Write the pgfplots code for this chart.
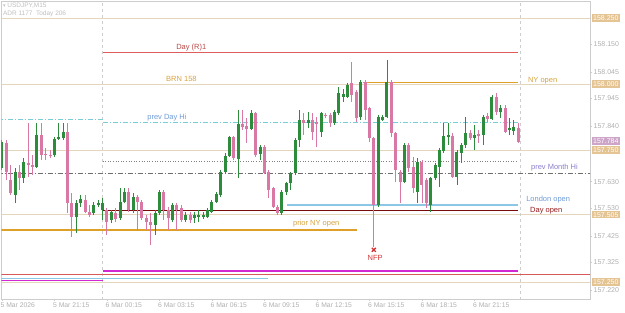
\documentclass[border=0pt]{standalone}
\usepackage{pgfplots}
\pgfplotsset{compat=1.18}
\usepackage{pgfplotstable}
\usepackage{fontspec}
\setmainfont{Liberation Sans}
\newfontfamily\dejavu{DejaVu Sans}

\definecolor{cgreen}{RGB}{44,140,60}
\definecolor{cpink}{RGB}{218,120,165}
\definecolor{tanline}{RGB}{228,214,186}
\definecolor{tanbox}{RGB}{228,196,146}
\definecolor{framec}{RGB}{205,205,205}
\definecolor{txtgrey}{RGB}{175,175,175}
\definecolor{r1red}{RGB}{222,92,92}
\definecolor{r1txt}{RGB}{185,70,70}
\definecolor{gold}{RGB}{222,160,40}
\definecolor{goldtxt}{RGB}{214,162,60}
\definecolor{pdhi}{RGB}{120,205,215}
\definecolor{bluetxt}{RGB}{110,155,215}
\definecolor{london}{RGB}{140,200,230}
\definecolor{dayopen}{RGB}{120,10,10}
\definecolor{dayopentxt}{RGB}{150,25,25}
\definecolor{pmtxt}{RGB}{140,125,205}
\definecolor{pmline}{RGB}{110,110,110}
\definecolor{magentaL}{RGB}{210,40,210}
\definecolor{redthin}{RGB}{215,90,90}
\definecolor{nfp}{RGB}{210,50,50}
\definecolor{mauve}{RGB}{205,165,200}

% candles: i open high low close (15-min bars, i = quarter hours from 6 Mar 00:00)
\pgfplotstableread{
i o h l c
-23 157.682 157.788 157.674 157.780
-20 157.580 157.682 157.549 157.667
-18 157.644 157.720 157.625 157.705
-15 157.686 157.852 157.682 157.807
-11 157.731 157.799 157.723 157.792
-10 157.792 157.852 157.788 157.799
-9 157.795 157.852 157.788 157.818
-6 157.496 157.561 157.436 157.549
-5 157.549 157.580 157.534 157.564
-2 157.511 157.553 157.504 157.542
-1 157.542 157.561 157.534 157.549
0 157.523 157.568 157.485 157.549
2 157.485 157.523 157.473 157.515
4 157.492 157.606 157.485 157.553
5 157.553 157.606 157.549 157.591
7 157.523 157.587 157.511 157.572
12 157.466 157.523 157.428 157.511
13 157.511 157.598 157.504 157.591
16 157.485 157.549 157.477 157.542
19 157.485 157.515 157.477 157.504
21 157.492 157.515 157.473 157.504
22 157.496 157.523 157.477 157.504
23 157.496 157.515 157.489 157.504
24 157.496 157.530 157.492 157.523
25 157.515 157.561 157.511 157.553
26 157.553 157.591 157.549 157.583
27 157.580 157.674 157.572 157.667
28 157.667 157.739 157.663 157.727
29 157.727 157.803 157.723 157.799
31 157.716 157.902 157.644 157.848
34 157.830 157.902 157.826 157.890
36 157.735 157.769 157.712 157.761
41 157.511 157.598 157.504 157.591
42 157.591 157.629 157.580 157.625
43 157.625 157.667 157.598 157.663
44 157.663 157.795 157.655 157.788
45 157.788 157.902 157.761 157.864
47 157.852 157.894 157.833 157.864
50 157.818 157.894 157.799 157.890
53 157.852 157.902 157.845 157.894
54 157.890 157.989 157.883 157.966
55 157.951 157.981 157.932 157.962
56 157.951 158.004 157.947 157.996
59 157.875 158.015 157.864 158.008
63 157.542 157.883 157.534 157.875
64 157.864 157.883 157.860 157.875
65 157.875 158.091 157.871 158.008
69 157.629 157.777 157.625 157.769
72 157.591 157.720 157.549 157.705
75 157.542 157.648 157.515 157.644
76 157.644 157.701 157.636 157.693
77 157.686 157.758 157.610 157.750
78 157.746 157.852 157.739 157.803
79 157.799 157.852 157.769 157.807
81 157.648 157.750 157.617 157.742
82 157.739 157.777 157.701 157.769
83 157.769 157.875 157.758 157.814
85 157.795 157.845 157.750 157.807
87 157.807 157.883 157.769 157.875
89 157.867 157.958 157.864 157.951
91 157.894 157.920 157.871 157.909
93 157.826 157.871 157.807 157.833
94 157.822 157.864 157.807 157.837
}\greenT

\pgfplotstableread{
i o h l c
-22 157.777 157.788 157.636 157.667
-21 157.636 157.693 157.580 157.587
-19 157.667 157.693 157.598 157.644
-17 157.701 157.852 157.648 157.693
-16 157.693 157.731 157.655 157.686
-14 157.807 157.852 157.712 157.731
-13 157.735 157.758 157.712 157.731
-12 157.731 157.750 157.720 157.727
-8 157.818 157.852 157.511 157.549
-7 157.549 157.587 157.420 157.496
-4 157.561 157.580 157.511 157.515
-3 157.515 157.542 157.496 157.504
1 157.523 157.530 157.428 157.477
3 157.511 157.530 157.477 157.489
6 157.591 157.606 157.515 157.523
8 157.572 157.580 157.447 157.553
9 157.553 157.561 157.485 157.492
10 157.492 157.504 157.447 157.477
11 157.477 157.511 157.390 157.466
14 157.591 157.598 157.485 157.523
15 157.523 157.534 157.447 157.492
17 157.542 157.549 157.447 157.523
18 157.530 157.542 157.477 157.485
20 157.504 157.515 157.473 157.485
30 157.799 157.803 157.712 157.720
32 157.848 157.902 157.826 157.837
33 157.841 157.871 157.777 157.830
35 157.890 157.894 157.723 157.731
37 157.761 157.769 157.659 157.663
38 157.667 157.674 157.568 157.598
39 157.606 157.610 157.530 157.534
40 157.534 157.542 157.504 157.511
46 157.864 157.890 157.807 157.852
48 157.864 157.890 157.788 157.818
49 157.856 157.875 157.761 157.848
51 157.883 157.890 157.871 157.879
52 157.883 157.890 157.837 157.852
57 158.004 158.083 157.932 157.958
58 157.970 157.977 157.856 157.871
60 158.008 158.015 157.864 157.902
61 157.909 157.913 157.780 157.795
62 157.795 157.799 157.383 157.542
66 158.008 158.015 157.799 157.814
67 157.814 157.818 157.629 157.674
68 157.667 157.674 157.549 157.629
70 157.769 157.777 157.667 157.682
71 157.686 157.723 157.587 157.606
73 157.705 157.712 157.549 157.617
74 157.636 157.644 157.530 157.549
80 157.803 157.814 157.644 157.648
84 157.814 157.826 157.788 157.795
86 157.811 157.826 157.777 157.803
88 157.879 157.890 157.856 157.867
90 157.951 157.966 157.883 157.894
92 157.909 157.920 157.814 157.818
95 157.833 157.852 157.777 157.780
}\pinkT

\pgfplotsset{
  candlepart/.style 2 args={draw=none, mark=none, forget plot,
    error bars/.cd, y dir=plus, y explicit, error mark=none,
    error bar style={draw=#1, line width=#2, solid}},
}

\tikzset{
  lbl/.style={font=\fontsize{7.5}{8}\selectfont, inner sep=0pt, anchor=west},
  pl/.style={font=\fontsize{7}{8}\selectfont, text=txtgrey, anchor=west, inner sep=0pt, xshift=3.5pt},
  pb/.style={font=\fontsize{7}{8}\selectfont, text=white, fill=tanbox, anchor=west, inner xsep=1.5pt, inner ysep=1.2pt, xshift=1.5pt},
}

\begin{document}
\begin{tikzpicture}
\useasboundingbox (0,0) rectangle (625pt,313pt);
\begin{axis}[
  at={(1.5pt,14pt)}, anchor=south west,
  width=588.5pt, height=297.5pt, scale only axis,
  xmin=-23.1, xmax=111.41, ymin=157.1856, ymax=158.3125,
  axis line style={framec, line width=0.6pt},
  clip mode=individual,
  xtick={-23,-11,1,13,25,37,49,61,73,85},
  xticklabels={5 Mar 2026,5 Mar 21:15,6 Mar 00:15,6 Mar 03:15,6 Mar 06:15,6 Mar 09:15,6 Mar 12:15,6 Mar 15:15,6 Mar 18:15,6 Mar 21:15},
  xticklabel style={anchor=north west, font=\fontsize{6.8}{7}\selectfont, text=txtgrey, xshift=-1.5pt, inner sep=0pt, yshift=-2pt},
  xtick pos=bottom,
  ytick={158.150,158.045,157.945,157.840,157.630,157.530,157.425,157.325,157.220},
  ytick pos=right, yticklabels={},
  tick style={framec, line width=0.5pt},
  major tick length=2pt, tick align=outside,
]
% full-width thin tan level lines
\addplot[tanline, line width=0.8pt, forget plot] coordinates {(-24,158.250) (112,158.250)};
\addplot[tanline, line width=0.8pt, forget plot] coordinates {(-24,158.000) (112,158.000)};
\addplot[tanline, line width=0.8pt, forget plot] coordinates {(-24,157.750) (112,157.750)};
\addplot[tanline, line width=0.8pt, forget plot] coordinates {(-24,157.505) (112,157.505)};
\addplot[tanline, line width=0.8pt, forget plot] coordinates {(-24,157.250) (112,157.250)};
% day separators
\addplot[framec, dashed, line width=0.5pt, forget plot] coordinates {(0,157.0) (0,158.5)};
\addplot[framec, dashed, line width=0.5pt, forget plot] coordinates {(95.5,157.0) (95.5,158.5)};
% levels
\addplot[r1red, line width=1.6pt, forget plot] coordinates {(0,158.119) (95,158.119)};
\addplot[gold, line width=1.6pt, forget plot] coordinates {(59.5,158.006) (95,158.006)};
\addplot[pdhi, line width=0.7pt, dash pattern=on 5pt off 2pt on 1pt off 2pt, forget plot] coordinates {(-24,157.867) (0,157.867)};
\addplot[pdhi, line width=0.7pt, dash pattern=on 5pt off 2pt on 1pt off 2pt, forget plot] coordinates {(0,157.854) (95,157.854)};
\addplot[gray, line width=0.6pt, dotted, forget plot] coordinates {(0,157.706) (95,157.706)};
\addplot[pmline, line width=0.7pt, dash pattern=on 5pt off 2pt on 1pt off 2pt, forget plot] coordinates {(-24,157.663) (112,157.663)};
\addplot[london, line width=1.4pt, forget plot] coordinates {(42.2,157.542) (95,157.542)};
\addplot[dayopen, line width=1.6pt, forget plot] coordinates {(0,157.521) (95,157.521)};
\addplot[gold, line width=1.6pt, forget plot] coordinates {(-24,157.447) (58.2,157.447)};
\addplot[redthin, line width=0.8pt, forget plot] coordinates {(-24,157.280) (112,157.280)};
\addplot[magentaL, line width=2pt, forget plot] coordinates {(0,157.290) (95,157.290)};
\addplot[london, line width=1.4pt, forget plot] coordinates {(-24,157.263) (37.8,157.263)};
\addplot[magentaL, line width=1.6pt, forget plot] coordinates {(-24,157.255) (0,157.255)};
% candles
\addplot[candlepart={cgreen}{0.9pt}] table[x=i, y=l, y error plus expr=\thisrow{h}-\thisrow{l}] {\greenT};
\addplot[candlepart={cpink}{0.9pt}] table[x=i, y=l, y error plus expr=\thisrow{h}-\thisrow{l}] {\pinkT};
\addplot[candlepart={cgreen}{3pt}] table[x=i, y=o, y error plus expr=\thisrow{c}-\thisrow{o}] {\greenT};
\addplot[candlepart={cpink}{3pt}] table[x=i, y=c, y error plus expr=\thisrow{o}-\thisrow{c}] {\pinkT};
% NFP marker
\addplot[only marks, mark=x, mark size=2.8pt, mark options={line width=1.3pt, nfp}, forget plot] coordinates {(62,157.372)};
% line labels
\node[lbl, text=r1txt] at (axis cs:16.8,158.138) {Day (R)1};
\node[lbl, text=goldtxt] at (axis cs:14.5,158.019) {BRN 158};
\node[lbl, text=bluetxt] at (axis cs:10.2,157.871) {prev Day Hi};
\node[lbl, text=goldtxt] at (axis cs:97.2,158.011) {NY open};
\node[lbl, text=pmtxt] at (axis cs:97.9,157.684) {prev Month Hi};
\node[lbl, text=bluetxt] at (axis cs:96.8,157.561) {London open};
\node[lbl, text=dayopentxt] at (axis cs:97.7,157.519) {Day open};
\node[lbl, text=goldtxt] at (axis cs:43.5,157.470) {prior NY open};
\node[lbl, text=nfp, anchor=center] at (axis cs:62.3,157.343) {NFP};
% top-left info
\node[font=\fontsize{6.5}{7}\selectfont, text=txtgrey!80, anchor=west, inner sep=0pt] at (axis cs:-22.8,158.295) {{\dejavu\fontsize{5}{6}\selectfont ▾}\ USDJPY,M15};
\node[font=\fontsize{6.5}{7}\selectfont, text=txtgrey!80, anchor=west, inner sep=0pt] at (axis cs:-22.8,158.265) {ADR 1177\ \ Today 206};
% right price scale
\node[pb] at (axis cs:111.41,158.250) {158.250};
\node[pl] at (axis cs:111.41,158.150) {158.150};
\node[pl] at (axis cs:111.41,158.045) {158.045};
\node[pb] at (axis cs:111.41,158.000) {158.000};
\node[pl] at (axis cs:111.41,157.945) {157.945};
\node[pl] at (axis cs:111.41,157.840) {157.840};
\node[pb, fill=mauve] at (axis cs:111.41,157.784) {157.784};
\node[pb] at (axis cs:111.41,157.750) {157.750};
\node[pl] at (axis cs:111.41,157.630) {157.630};
\node[pl] at (axis cs:111.41,157.530) {157.530};
\node[pb] at (axis cs:111.41,157.505) {157.505};
\node[pl] at (axis cs:111.41,157.425) {157.425};
\node[pl] at (axis cs:111.41,157.325) {157.325};
\node[pb] at (axis cs:111.41,157.250) {157.250};
\node[pl] at (axis cs:111.41,157.220) {157.220};
\end{axis}
\end{tikzpicture}
\end{document}
